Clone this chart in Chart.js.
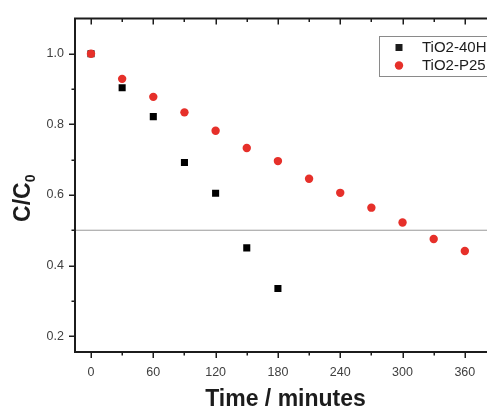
<!DOCTYPE html>
<html>
<head>
<meta charset="utf-8">
<script src="https://cdn.jsdelivr.net/npm/chart.js@4/dist/chart.umd.min.js"></script>
<style>
  html, body { margin: 0; padding: 0; background: #fff; overflow: hidden; }
  #wrap { position: relative; width: 510px; height: 410px; }
</style>
</head>
<body>
<div id="wrap"><canvas id="chart"></canvas></div>
<script>
// data
var seriesNames = ['TiO2-40H', 'TiO2-P25'];
var times40H = [0, 30, 60, 90, 120, 150, 180];
var values40H = [1.0, 0.904, 0.822, 0.692, 0.605, 0.450, 0.335];
var timesP25 = [0, 30, 60, 90, 120, 150, 180, 210, 240, 270, 300, 330, 360];
var valuesP25 = [1.0, 0.929, 0.878, 0.834, 0.782, 0.733, 0.696, 0.646, 0.606, 0.564, 0.522, 0.475, 0.441];
var halfLevel = 0.5;

var xRange = [-15.4, 390];
var yRange = [0.155, 1.10];
var xMajor = [0, 60, 120, 180, 240, 300, 360];
var xMinor = [30, 90, 150, 210, 270, 330];
var yMajor = [0.2, 0.4, 0.6, 0.8, 1.0];
var yMinor = [0.3, 0.5, 0.7, 0.9];

var RED = '#e6302a';
var INK = '#1c1c1c';
var FONT = '"Liberation Sans", Arial, Helvetica, sans-serif';

function toPoints(xs, ys) {
    return xs.map(function(x, i) { return {x: x, y: ys[i]}; });
}

var framePlugin = {
    id: 'frame',
    afterDraw: function(chart) {
        var ctx = chart.ctx;
        var a = chart.chartArea;
        var xs = chart.scales.x, ys = chart.scales.y;
        ctx.save();
        ctx.strokeStyle = INK;
        ctx.lineWidth = 2;
        ctx.strokeRect(a.left, a.top, a.right - a.left, a.bottom - a.top);

        ctx.lineWidth = 1.5;
        ctx.beginPath();
        function xTick(v, len) {
            var px = Math.round(xs.getPixelForValue(v)) + 0.25;
            ctx.moveTo(px, a.bottom); ctx.lineTo(px, a.bottom + len);
            ctx.moveTo(px, a.top); ctx.lineTo(px, a.top + len);
        }
        function yTick(v, len) {
            var py = Math.round(ys.getPixelForValue(v)) + 0.25;
            ctx.moveTo(a.left, py); ctx.lineTo(a.left - len, py);
        }
        xMajor.forEach(function(v) { xTick(v, 6); });
        xMinor.forEach(function(v) { xTick(v, 3.5); });
        yMajor.forEach(function(v) { yTick(v, 6); });
        yMinor.forEach(function(v) { yTick(v, 3.5); });
        ctx.stroke();

        // axis titles
        ctx.fillStyle = INK;
        ctx.font = 'bold 23px ' + FONT;
        ctx.textAlign = 'center';
        ctx.textBaseline = 'alphabetic';
        ctx.fillText('Time / minutes', (a.left + a.right) / 2, 406);

        ctx.save();
        ctx.translate(30, (a.top + a.bottom) / 2 + 13);
        ctx.rotate(-Math.PI / 2);
        ctx.textAlign = 'left';
        var main = 'C/C';
        var mw = ctx.measureText(main).width;
        ctx.font = 'bold 14px ' + FONT;
        var sw = ctx.measureText('0').width;
        var start = -(mw + sw) / 2;
        ctx.font = 'bold 23px ' + FONT;
        ctx.fillText(main, start, 0);
        ctx.font = 'bold 14px ' + FONT;
        ctx.fillText('0', start + mw, 5);
        ctx.restore();

        // legend box
        ctx.lineWidth = 1;
        ctx.strokeStyle = '#8a8a8a';
        ctx.strokeRect(379.5, 36.5, 120, 40);
        ctx.fillStyle = INK;
        ctx.fillRect(395.5, 44, 7, 7);
        ctx.fillStyle = RED;
        ctx.beginPath();
        ctx.arc(399, 65.5, 4.2, 0, Math.PI * 2);
        ctx.fill();
        ctx.fillStyle = INK;
        ctx.font = '15px ' + FONT;
        ctx.textAlign = 'left';
        ctx.textBaseline = 'middle';
        ctx.fillText(seriesNames[0], 422, 48);
        ctx.fillText(seriesNames[1], 422, 66);
        ctx.restore();
    }
};

new Chart(document.getElementById('chart'), {
    type: 'scatter',
    data: {
        datasets: [{
            label: seriesNames[1],
            data: toPoints(timesP25, valuesP25),
            pointStyle: 'circle',
            pointRadius: 4.2,
            backgroundColor: RED,
            borderWidth: 0,
            order: 1
        }, {
            label: seriesNames[0],
            data: toPoints(times40H, values40H),
            pointStyle: 'rect',
            pointRadius: 5,
            backgroundColor: '#000',
            borderWidth: 0,
            order: 2
        }, {
            type: 'line',
            label: 'half',
            data: toPoints(xRange, [halfLevel, halfLevel]),
            borderColor: '#9a9a9a',
            borderWidth: 1,
            pointRadius: 0,
            order: 3
        }]
    },
    options: {
        responsive: true,
        maintainAspectRatio: false,
        animation: false,
        layout: { padding: { top: 14, right: 14, left: 0, bottom: 0 } },
        plugins: { legend: { display: false }, tooltip: { enabled: false } },
        scales: {
            x: {
                type: 'linear',
                min: xRange[0],
                max: xRange[1],
                afterBuildTicks: function(scale) {
                    scale.ticks = xMajor.map(function(v) { return {value: v}; });
                },
                afterFit: function(scale) { scale.height = 58; },
                grid: { display: false, drawTicks: false },
                border: { display: false },
                ticks: {
                    padding: 13,
                    color: '#404040',
                    font: { family: FONT, size: 12.5 },
                    maxRotation: 0,
                    callback: function(v) { return String(v); }
                }
            },
            y: {
                type: 'linear',
                min: yRange[0],
                max: yRange[1],
                afterBuildTicks: function(scale) {
                    scale.ticks = yMajor.map(function(v) { return {value: v}; });
                },
                afterFit: function(scale) { scale.width = 75; },
                grid: { display: false, drawTicks: false },
                border: { display: false },
                ticks: {
                    padding: 11,
                    color: '#404040',
                    font: { family: FONT, size: 12.5 },
                    callback: function(v) { return v.toFixed(1); }
                }
            }
        }
    },
    plugins: [framePlugin]
});
</script>
</body>
</html>
